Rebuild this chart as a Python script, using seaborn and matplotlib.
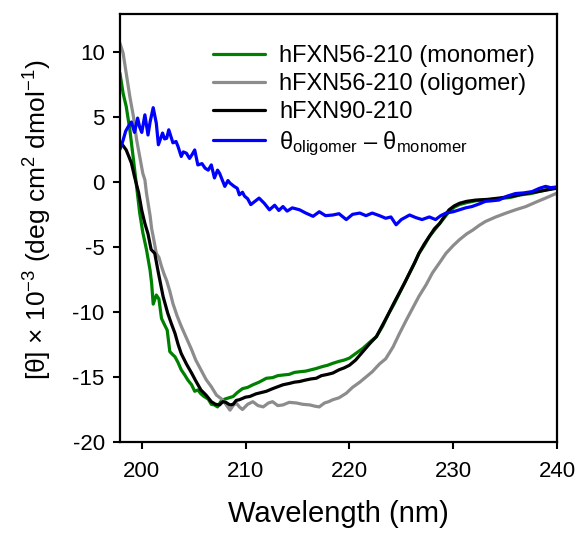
import numpy as np
import pandas as pd
import matplotlib
matplotlib.use("Agg")
import matplotlib.pyplot as plt
import seaborn as sns

# ---------------------------------------------------------------------------
# Data (values x 10^-3)
# ---------------------------------------------------------------------------

WL_MONOMER = [
    197.9, 198.2, 198.5, 198.85, 199.2, 199.5, 199.8, 200.1, 200.45, 200.8,
    200.95, 201.1, 201.4, 201.65, 201.9, 202.2, 202.45, 202.7, 203.0, 203.2,
    203.5, 203.8, 204.1, 204.45, 204.8, 205.1, 205.4, 205.7, 206.0, 206.4,
    206.7, 207.0, 207.3, 207.6, 208.0, 208.4, 208.8, 209.2, 209.7, 210.2,
    210.7, 211.3, 212.0, 212.6, 213.1, 213.6, 214.2, 214.7, 215.2, 215.8,
    216.3, 216.8, 217.4, 217.9, 218.4, 219.0, 219.5, 220.0, 220.6, 221.3,
    222.0, 222.6, 223.2, 223.8, 224.3, 224.8, 225.3, 225.8, 226.3, 226.7,
    227.2, 227.7, 228.2, 228.7, 229.2, 229.6, 230.1, 230.6, 231.3, 232.2,
    233.2, 234.4, 235.5, 236.5, 237.5, 238.5, 239.3, 240.0,
]
THETA_MONOMER = [
    8.35, 6.8, 5.8, 4.0, 1.7, -0.35, -2.4, -3.9, -5.2, -6.8,
    -7.8, -9.4, -8.7, -9.0, -10.5, -11.0, -11.4, -13.05, -13.3, -13.45,
    -13.9, -14.45, -14.8, -15.25, -15.6, -16.1, -16.0, -16.3, -16.5, -16.7,
    -17.1, -17.15, -17.3, -16.9, -16.7, -16.6, -16.5, -16.2, -15.9, -15.8,
    -15.6, -15.4, -15.1, -15.05, -14.9, -14.85, -14.8, -14.65, -14.6, -14.55,
    -14.45, -14.35, -14.2, -14.1, -13.95, -13.8, -13.7, -13.55, -13.2, -12.8,
    -12.3, -11.9, -11.1, -10.1, -9.4, -8.6, -7.8, -7.0, -6.2, -5.5,
    -4.9, -4.2, -3.7, -3.2, -2.7, -2.3, -1.95, -1.75, -1.6, -1.45,
    -1.4, -1.3, -1.2, -1.0, -0.9, -0.7, -0.55, -0.45,
]

WL_OLIGOMER = [
    197.9, 198.2, 198.5, 198.85, 199.2, 199.5, 199.8, 200.1, 200.3, 200.45,
    200.6, 200.8, 200.95, 201.1, 201.4, 201.65, 201.9, 202.15, 202.4, 202.7,
    203.0, 203.4, 203.8, 204.3, 204.8, 205.2, 205.7, 206.2, 206.7, 207.2,
    207.7, 208.1, 208.5, 208.8, 209.1, 209.4, 209.7, 210.2, 210.7, 211.2,
    211.7, 212.2, 212.6, 213.1, 213.6, 214.2, 214.9, 215.5, 216.2, 216.7,
    217.1, 217.6, 218.0, 218.4, 219.0, 219.7, 220.3, 221.0, 221.6, 222.2,
    222.9, 223.5, 224.2, 224.8, 225.5, 226.1, 226.7, 227.4, 228.0, 228.7,
    229.3, 230.0, 230.6, 231.3, 231.9, 232.5, 233.1, 234.1, 235.1, 236.0,
    237.0, 238.0, 238.9, 239.9,
]
THETA_OLIGOMER = [
    10.65, 9.9, 8.35, 6.55, 5.0, 3.25, 1.95, 0.65, 0.15, -0.85,
    -1.6, -2.6, -3.6, -4.2, -5.5, -5.8, -6.5, -7.1, -7.6, -8.4,
    -9.35, -10.3, -11.1, -12.0, -12.9, -13.7, -14.45, -15.2, -15.75, -16.4,
    -16.7, -17.1, -17.55, -17.2, -17.0, -17.3, -17.5, -17.1, -16.9, -17.2,
    -17.3, -17.0, -16.9, -17.2, -17.15, -16.95, -17.0, -17.1, -17.15, -17.25,
    -17.3, -17.0, -16.9, -16.75, -16.6, -16.25, -15.8, -15.4, -15.0, -14.6,
    -14.0, -13.6, -12.7, -11.7, -10.6, -9.7, -8.8, -7.9, -7.0, -6.2,
    -5.5, -4.9, -4.45, -4.0, -3.7, -3.35, -3.05, -2.7, -2.4, -2.15,
    -1.9, -1.55, -1.25, -0.9,
]

WL_90 = [
    198.0, 198.5, 199.0, 199.3, 199.7, 200.0, 200.3, 200.6, 200.9, 201.25,
    201.6, 202.05, 202.5, 202.85, 203.2, 203.5, 203.8, 204.3, 204.8, 205.2,
    205.7, 206.2, 206.7, 207.1, 207.5, 207.8, 208.1, 208.5, 208.8, 209.1,
    209.4, 210.0, 210.4, 211.0, 211.5, 212.0, 212.6, 213.1, 213.6, 214.2,
    214.7, 215.2, 215.7, 216.3, 216.8, 217.3, 217.9, 218.4, 219.0, 219.5,
    220.0, 220.6, 221.3, 222.0, 222.6, 223.2, 223.8, 224.3, 224.8, 225.3,
    225.8, 226.3, 226.7, 227.2, 227.7, 228.2, 228.7, 229.2, 229.6, 230.1,
    230.6, 231.3, 232.2, 233.3, 234.4, 235.7, 237.0, 238.5, 239.9,
]
THETA_90 = [
    3.0, 2.45, 1.45, 0.4, -0.85, -2.2, -3.2, -4.0, -5.2, -5.5,
    -7.0, -8.8, -10.1, -10.9, -11.65, -12.5, -13.2, -14.0, -14.7, -15.3,
    -16.0, -16.4, -16.9, -17.1, -17.15, -16.9, -16.95, -17.15, -17.1, -16.8,
    -16.75, -16.55, -16.5, -16.3, -16.2, -16.1, -15.9, -15.75, -15.6, -15.5,
    -15.4, -15.35, -15.25, -15.15, -15.1, -14.9, -14.8, -14.7, -14.45, -14.3,
    -14.1, -13.7, -13.05, -12.4, -11.9, -11.0, -10.1, -9.3, -8.55, -7.8,
    -7.0, -6.2, -5.5, -4.8, -4.2, -3.6, -3.2, -2.6, -2.15, -1.85,
    -1.65, -1.5, -1.4, -1.35, -1.25, -1.1, -0.9, -0.7, -0.5,
]

WL_DIFF = [
    197.9, 198.2, 198.45, 198.7, 199.0, 199.3, 199.6, 199.8, 200.0, 200.3,
    200.6, 200.8, 201.1, 201.4, 201.6, 202.0, 202.2, 202.4, 202.6, 203.0,
    203.3, 203.5, 203.8, 204.0, 204.3, 204.6, 204.85, 205.1, 205.4, 205.8,
    206.1, 206.4, 206.7, 207.0, 207.3, 207.5, 208.0, 208.3, 208.5, 208.9,
    209.2, 209.4, 209.7, 209.9, 210.2, 210.5, 210.9, 211.3, 211.8, 212.3,
    212.8, 213.2, 213.6, 214.0, 214.5, 215.2, 215.8, 216.5, 217.1, 217.7,
    218.4, 219.0, 219.7, 220.3, 221.0, 221.6, 222.2, 222.9, 223.5, 224.0,
    224.5, 225.0, 225.8, 226.4, 227.0, 227.7, 228.3, 228.8, 229.3, 230.0,
    230.6, 231.2, 231.8, 232.5, 233.1, 233.8, 234.4, 235.2, 236.0, 236.8,
    237.6, 238.3, 238.9, 239.4, 239.9,
]
THETA_DIFF = [
    2.5, 3.2, 3.9, 4.25, 4.6, 3.8, 4.9, 4.2, 3.8, 5.15,
    3.6, 4.6, 5.7, 4.5, 2.85, 3.75, 3.3, 3.35, 4.0, 3.0,
    3.1, 2.7, 1.95, 2.3, 2.2, 1.8, 2.1, 2.45, 1.3, 1.4,
    1.05, 0.9, 1.3, 0.3, 0.9, 0.65, -0.35, 0.1, -0.1, -0.35,
    -0.5, -1.0, -0.8, -1.1, -1.3, -1.75, -1.5, -1.25, -1.65, -2.15,
    -1.8, -2.2, -1.9, -2.25, -2.0, -2.15, -2.4, -2.65, -2.3, -2.6,
    -2.55, -2.45, -2.9, -2.5, -2.4, -2.6, -2.4, -2.6, -2.8, -2.7,
    -3.3, -2.9, -2.55, -2.75, -2.9, -2.7, -2.9, -2.6, -2.4, -2.3,
    -2.15, -2.0, -1.9, -1.7, -1.5, -1.45, -1.4, -1.1, -0.9, -0.85,
    -0.75, -0.5, -0.35, -0.45, -0.4,
]

LABELS = [
    "hFXN56-210 (monomer)",
    "hFXN56-210 (oligomer)",
    "hFXN90-210",
    "θ$_{\\mathrm{oligomer}}$ – θ$_{\\mathrm{monomer}}$",
]
COLORS = ["#008000", "#8c8c8c", "#000000", "#0000ff"]

X_TICKS = [200, 210, 220, 230, 240]
Y_TICKS = [-20, -15, -10, -5, 0, 5, 10]

# ---------------------------------------------------------------------------
# Build long-form table
# ---------------------------------------------------------------------------

frames = []
for label, wl, th in zip(
    LABELS,
    [WL_MONOMER, WL_OLIGOMER, WL_90, WL_DIFF],
    [THETA_MONOMER, THETA_OLIGOMER, THETA_90, THETA_DIFF],
):
    frames.append(pd.DataFrame({"wavelength": wl, "theta": th, "sample": label}))
df = pd.concat(frames, ignore_index=True)

# ---------------------------------------------------------------------------
# Plot
# ---------------------------------------------------------------------------

sns.set_style("ticks")
plt.rcParams["font.family"] = ["Liberation Sans", "DejaVu Sans"]
plt.rcParams["mathtext.fontset"] = "custom"
plt.rcParams["mathtext.rm"] = "Liberation Sans"
plt.rcParams["mathtext.it"] = "Liberation Sans:italic"
plt.rcParams["mathtext.bf"] = "Liberation Sans:bold"
plt.rcParams["axes.unicode_minus"] = False
plt.rcParams["text.color"] = "black"

fig = plt.figure(figsize=(5.81, 5.35), dpi=100)
ax = fig.add_axes([0.2065, 0.1738, 0.7522, 0.8000])

sns.lineplot(
    data=df, x="wavelength", y="theta", hue="sample",
    hue_order=LABELS, palette=dict(zip(LABELS, COLORS)),
    estimator=None, sort=False, linewidth=2.3, ax=ax,
)

ax.set_xlim(197.9, 240.0)
ax.set_ylim(-20, 12.9)
ax.set_xticks(X_TICKS)
ax.set_yticks(Y_TICKS)
ax.tick_params(direction="out", length=5, width=1.5, labelsize=16, colors="black")
ax.tick_params(axis="x", pad=9)
ax.tick_params(axis="y", pad=6)
for side in ("left", "right", "top", "bottom"):
    ax.spines[side].set_visible(True)
    ax.spines[side].set_linewidth(1.6)
    ax.spines[side].set_color("black")

ax.set_xlabel("Wavelength (nm)", fontsize=21, color="black")
ax.set_ylabel("[θ] × 10$^{-3}$ (deg cm$^{2}$ dmol$^{-1}$)", fontsize=19, color="black")
ax.xaxis.set_label_coords(0.5, -0.135)
ax.yaxis.set_label_coords(-0.15, 0.52)

leg = ax.legend(
    loc="upper left", bbox_to_anchor=(0.213, 0.928),
    frameon=False, fontsize=17, handlelength=2.2, handletextpad=0.6,
    labelspacing=0.26, borderpad=0, borderaxespad=0,
)
for txt in leg.get_texts():
    txt.set_color("black")

fig.savefig("out.png", dpi=100)
plt.close(fig)
